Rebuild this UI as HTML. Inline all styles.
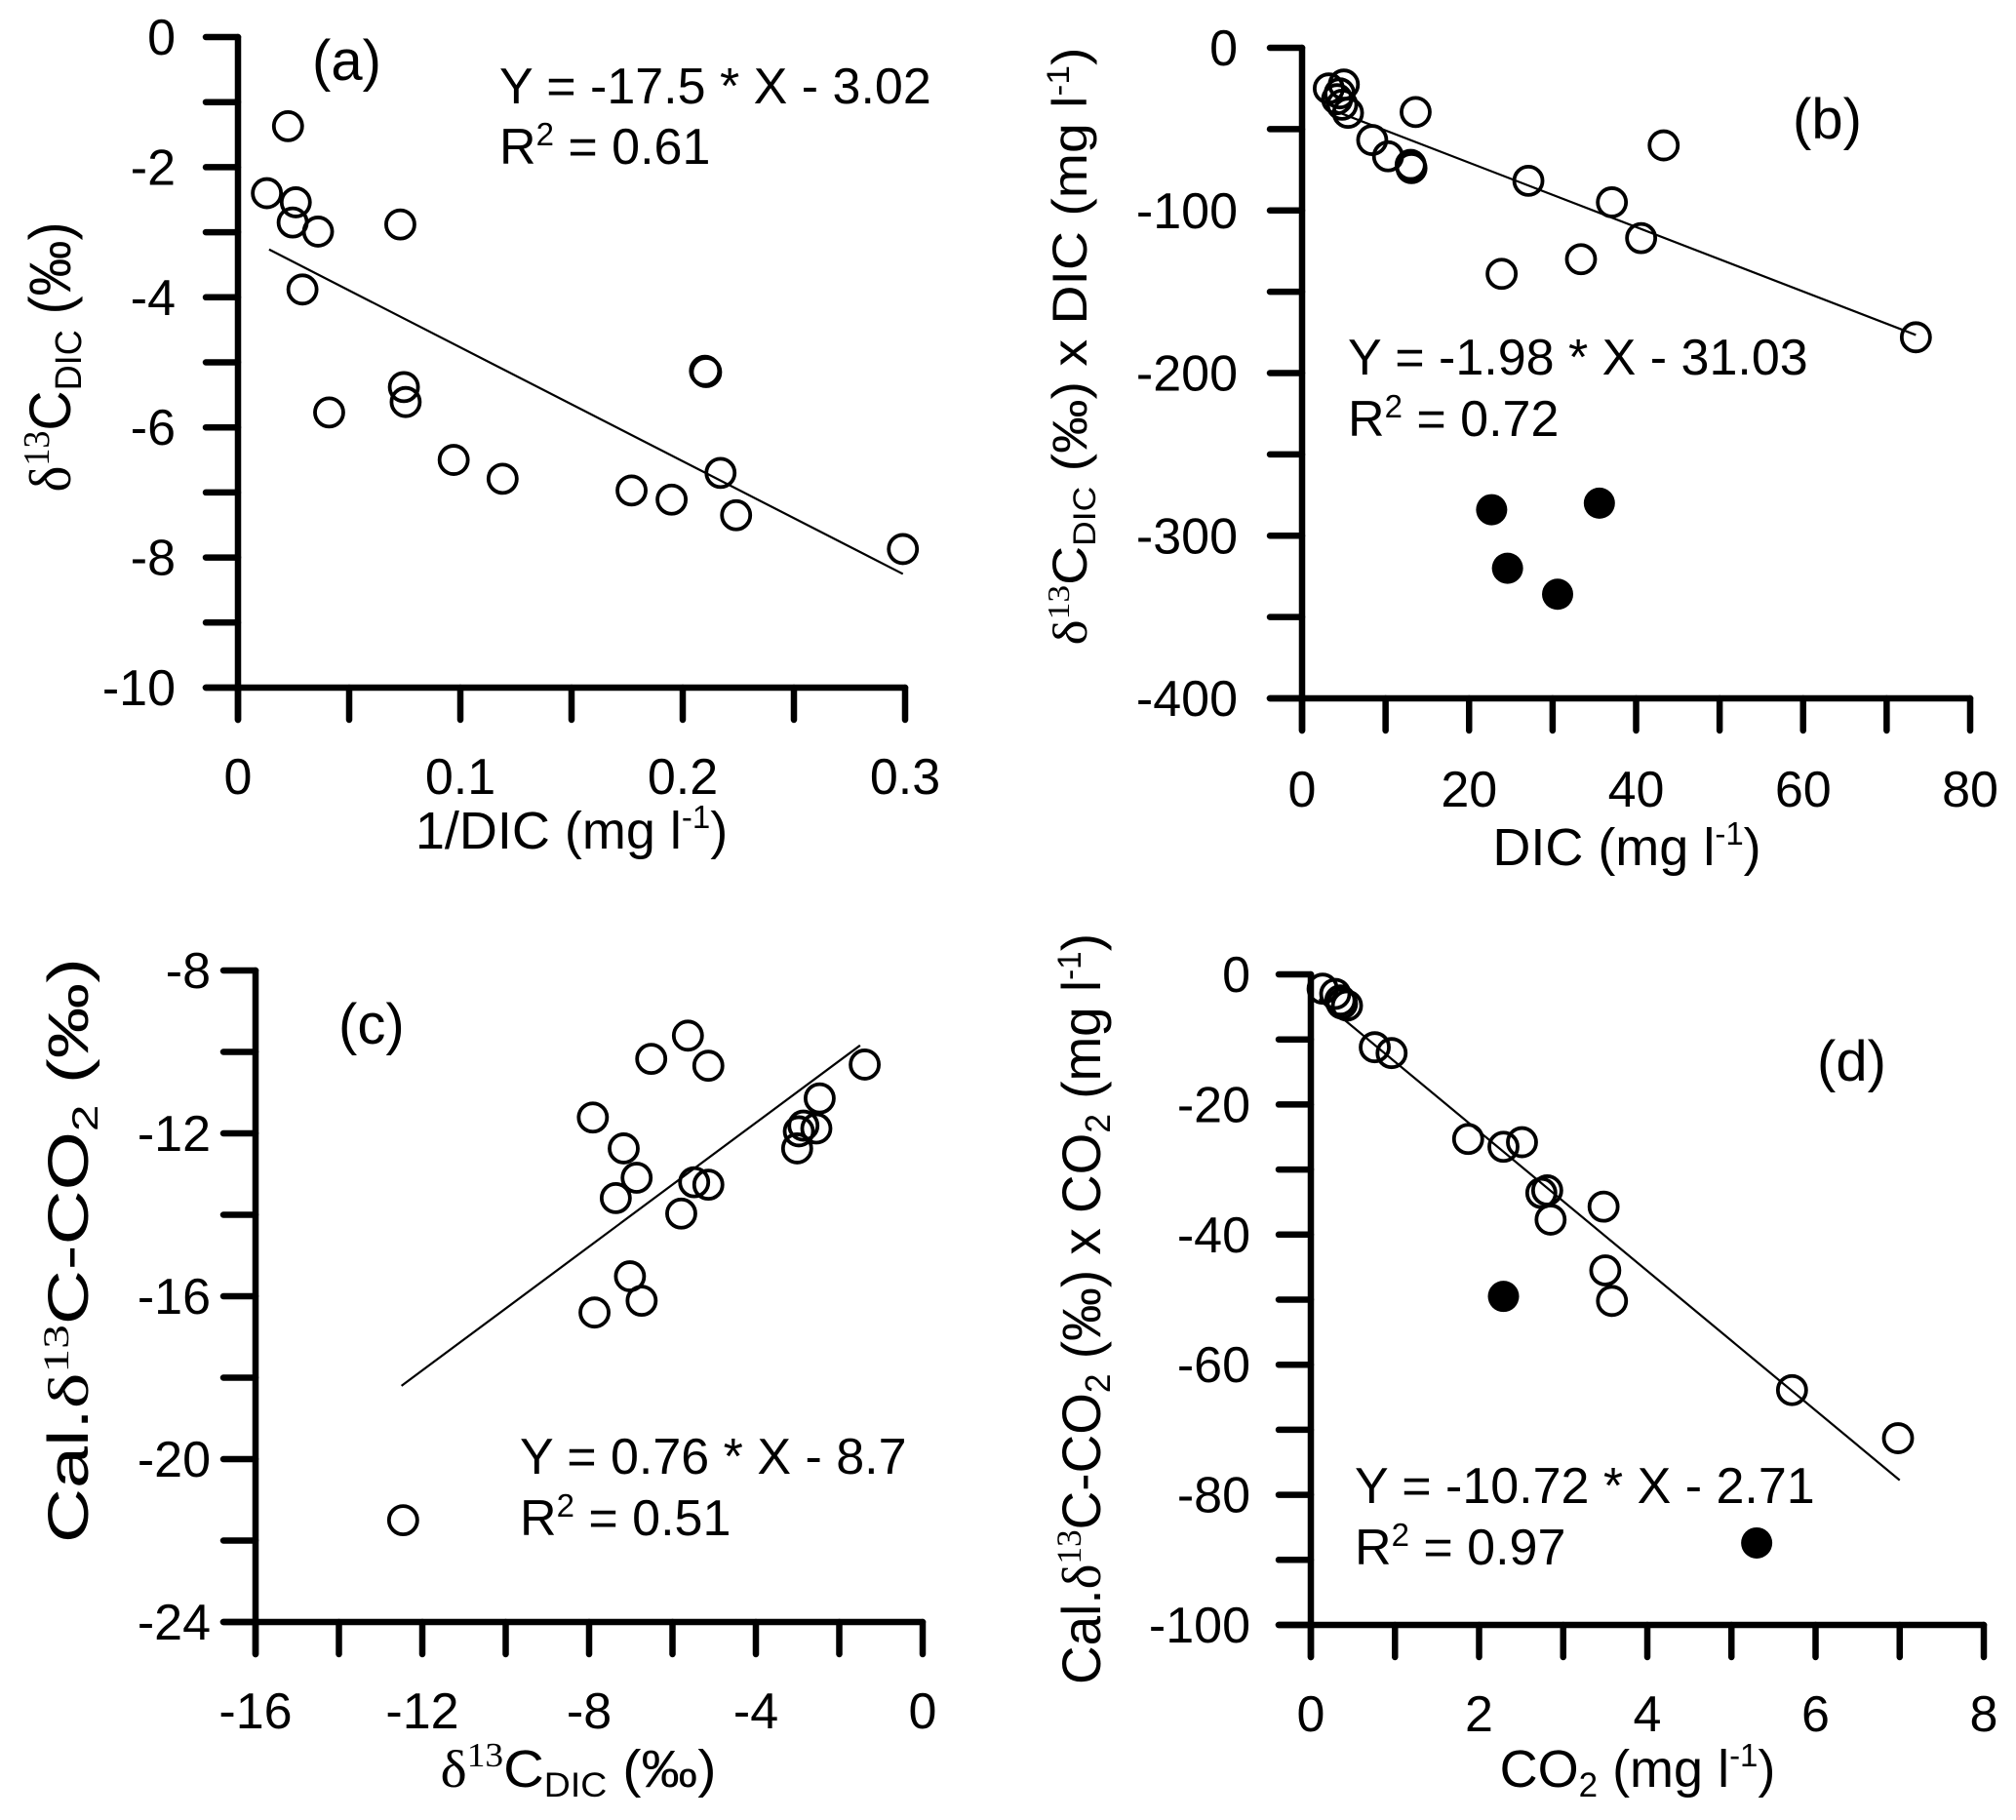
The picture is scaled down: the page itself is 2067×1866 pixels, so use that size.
<!DOCTYPE html>
<html><head><meta charset="utf-8"><style>
html,body{margin:0;padding:0;background:#fff;}
svg{display:block;font-family:"Liberation Sans",Arial,sans-serif;}
.ser{font-family:"Liberation Serif","Times New Roman",serif;}
</style></head><body>
<svg id="fig" width="2067" height="1866" viewBox="0 0 2067 1866" xmlns="http://www.w3.org/2000/svg">
<g id="pa"></g>
<g id="pb"></g>
<g id="pc"></g>
<g id="pd"></g>

<text x="320" y="82" font-size="58">(a)</text>
<text x="512" y="106" font-size="52">Y = -17.5 * X - 3.02</text>
<text x="512" y="168" font-size="52">R<tspan font-size="33" dy="-19">2</tspan><tspan dy="19"> = 0.61</tspan></text>
<text x="586" y="870" font-size="54" text-anchor="middle">1/DIC (mg l<tspan font-size="33" dy="-21">-1</tspan><tspan dy="21">)</tspan></text>
<text transform="translate(72,366) rotate(-90)" font-size="60" text-anchor="middle" textLength="277" lengthAdjust="spacingAndGlyphs"><tspan class="ser">δ</tspan><tspan class="ser" font-size="38" dy="-22">13</tspan><tspan dy="22">C</tspan><tspan font-size="38" dy="11">DIC</tspan><tspan dy="-11"> (‰)</tspan></text>

<text x="1838" y="142" font-size="58">(b)</text>
<text x="1382" y="384" font-size="52">Y = -1.98 * X - 31.03</text>
<text x="1382" y="447" font-size="52">R<tspan font-size="33" dy="-19">2</tspan><tspan dy="19"> = 0.72</tspan></text>
<text x="1668" y="887" font-size="54" text-anchor="middle">DIC (mg l<tspan font-size="33" dy="-21">-1</tspan><tspan dy="21">)</tspan></text>
<text transform="translate(1114,355) rotate(-90)" font-size="50" text-anchor="middle" textLength="613" lengthAdjust="spacingAndGlyphs"><tspan class="ser">δ</tspan><tspan class="ser" font-size="32" dy="-18">13</tspan><tspan dy="18">C</tspan><tspan font-size="32" dy="9">DIC</tspan><tspan dy="-9"> (‰) x DIC (mg l</tspan><tspan font-size="32" dy="-18">-1</tspan><tspan dy="18">)</tspan></text>

<text x="347" y="1070" font-size="58">(c)</text>
<text x="533" y="1511" font-size="52">Y = 0.76 * X - 8.7</text>
<text x="533" y="1574" font-size="52">R<tspan font-size="33" dy="-19">2</tspan><tspan dy="19"> = 0.51</tspan></text>
<text x="593" y="1832" font-size="54" text-anchor="middle" textLength="283" lengthAdjust="spacingAndGlyphs"><tspan class="ser">δ</tspan><tspan class="ser" font-size="35" dy="-21">13</tspan><tspan dy="21">C</tspan><tspan font-size="35" dy="10">DIC</tspan><tspan dy="-10"> (‰)</tspan></text>
<text transform="translate(90,1282) rotate(-90)" font-size="58" text-anchor="middle" textLength="600" lengthAdjust="spacingAndGlyphs">Cal.<tspan class="ser">δ</tspan><tspan class="ser" font-size="37" dy="-20">13</tspan><tspan dy="20">C-CO</tspan><tspan font-size="37" dy="10">2</tspan><tspan dy="-10"> (‰)</tspan></text>

<text x="1863" y="1108" font-size="58">(d)</text>
<text x="1389" y="1541" font-size="52">Y = -10.72 * X - 2.71</text>
<text x="1389" y="1604" font-size="52">R<tspan font-size="33" dy="-19">2</tspan><tspan dy="19"> = 0.97</tspan></text>
<text x="1679" y="1832" font-size="54" text-anchor="middle">CO<tspan font-size="35" dy="10">2</tspan><tspan dy="-10"> (mg l</tspan><tspan font-size="33" dy="-21">-1</tspan><tspan dy="21">)</tspan></text>
<text transform="translate(1128,1342) rotate(-90)" font-size="56" text-anchor="middle" textLength="770" lengthAdjust="spacingAndGlyphs">Cal.<tspan class="ser">δ</tspan><tspan class="ser" font-size="36" dy="-20">13</tspan><tspan dy="20">C-CO</tspan><tspan font-size="36" dy="10">2</tspan><tspan dy="-10"> (‰) x CO</tspan><tspan font-size="36" dy="10">2</tspan><tspan dy="-10"> (mg l</tspan><tspan font-size="34" dy="-20">-1</tspan><tspan dy="20">)</tspan></text>
</svg>
<script>
// ---- Panel (a) data ----
const aX = [0.0225,0.013,0.026,0.0246,0.036,0.029,0.073,0.0746,0.0754,0.041,0.097,0.119,0.177,0.195,0.210,0.2105,0.217,0.224,0.299];
const aY = [-1.37,-2.40,-2.54,-2.85,-2.99,-3.88,-2.88,-5.38,-5.61,-5.77,-6.50,-6.79,-6.97,-7.11,-5.13,-5.15,-6.70,-7.35,-7.87];
const aFit = [-17.5, -3.02]; const aFitRange = [0.014, 0.299];
const aYTicks = [0,-2,-4,-6,-8,-10]; const aXTicks = [0,0.1,0.2,0.3];
const aXTickLabels = ["0","0.1","0.2","0.3"];
// ---- Panel (b) data ----
const bX = [3.2,5.0,4.2,4.8,5.5,4.5,8.4,10.3,13.1,13.0,13.6,27.1,23.9,37.1,33.4,40.6,43.3,73.5];
const bY = [-25,-22.6,-31.6,-35,-40,-28,-56.7,-66.7,-74,-72,-39.5,-81.8,-139,-95,-130,-117,-60,-178];
const bFX = [22.7,24.6,35.6,30.6];
const bFY = [-284,-320,-280,-336];
const bFit = [-1.98, -31.03]; const bFitRange = [4, 73.5];
const bYTicks = [0,-100,-200,-300,-400]; const bXTicks = [0,20,40,60,80];
// ---- Panel (c) data ----
const cX = [-5.63,-6.51,-5.14,-1.39,-2.47,-7.91,-2.86,-2.55,-2.97,-3.01,-7.17,-6.86,-5.48,-5.14,-7.36,-5.79,-7.02,-6.74,-7.87,-12.46];
const cY = [-9.60,-10.17,-10.34,-10.31,-11.14,-11.61,-11.81,-11.88,-11.95,-12.37,-12.37,-13.09,-13.20,-13.26,-13.59,-13.97,-15.51,-16.11,-16.40,-21.50];
const cFit = [0.76, -8.7]; const cFitRange = [-12.5, -1.5];
const cYTicks = [-8,-12,-16,-20,-24]; const cXTicks = [-16,-12,-8,-4,0];
// ---- Panel (d) data ----
const dX = [0.14,0.29,0.35,0.43,0.37,0.76,0.96,1.87,2.29,2.51,2.74,2.81,2.85,3.48,3.50,3.58,5.72,6.98];
const dY = [-2.2,-3.0,-4.0,-4.8,-4.5,-11.2,-12.1,-25.3,-26.5,-25.8,-33.6,-33.2,-37.7,-35.7,-45.5,-50.2,-63.9,-71.3];
const dFX = [2.29,5.30];
const dFY = [-49.5,-87.4];
const dFit = [-10.72, -2.71]; const dFitRange = [0.1, 7.0];
const dYTicks = [0,-20,-40,-60,-80,-100]; const dXTicks = [0,2,4,6,8];

const NS="http://www.w3.org/2000/svg";
function mk(tag, parent, attrs){const e=document.createElementNS(NS,tag);for(const k in attrs)e.setAttribute(k,attrs[k]);parent.appendChild(e);return e;}

function panel(gid, px0, px1, py0, py1, xmin, xmax, ymin, ymax, xMinorStep, yMinorStep, xTicks, xLabels, yTicks, labRightX, xLabBase, ox, oy, fx, fy, fit, fitRange, pre){
  const g=document.getElementById(gid);
  const sx=v=>px0+(v-xmin)/(xmax-xmin)*(px1-px0);
  const sy=v=>py1-(v-ymin)/(ymax-ymin)*(py1-py0);
  const tl=33;
  const ax=mk('path',g,{d:`M${px0} ${py0} L${px0} ${py1+tl} M${px0-tl} ${py1} L${px1} ${py1}`,stroke:'#000','stroke-width':6.5,fill:'none','stroke-linecap':'round'});
  
  
  let ticks='';
  const nx=Math.round((xmax-xmin)/xMinorStep);
  for(let i=0;i<=nx;i++){const x=sx(xmin+i*xMinorStep);ticks+=`M${x} ${py1} L${x} ${py1+tl} `;}
  const ny=Math.round((ymax-ymin)/yMinorStep);
  for(let i=0;i<=ny;i++){const y=sy(ymin+i*yMinorStep);ticks+=`M${px0-tl} ${y} L${px0} ${y} `;}
  const tk=mk('path',g,{d:ticks,stroke:'#000','stroke-width':6.5,fill:'none','stroke-linecap':'round'});
  
  
  xTicks.forEach((v,i)=>{const t=mk('text',g,{x:sx(v),y:xLabBase,'font-size':52,'text-anchor':'middle'});t.textContent=xLabels?xLabels[i]:String(v);
    
    });
  yTicks.forEach(v=>{const t=mk('text',g,{x:labRightX,y:sy(v)+18,'font-size':52,'text-anchor':'end'});t.textContent=String(v);
    
    });
  const ln=mk('line',g,{x1:sx(fitRange[0]),y1:sy(fit[0]*fitRange[0]+fit[1]),x2:sx(fitRange[1]),y2:sy(fit[0]*fitRange[1]+fit[1]),stroke:'#000','stroke-width':2.2});
  
  
  ox.forEach((v,i)=>{const c=mk('circle',g,{cx:sx(v),cy:sy(oy[i]),r:14.5,fill:'none',stroke:'#000','stroke-width':3.8});
    
    });
  if(fx) fx.forEach((v,i)=>{const c=mk('circle',g,{cx:sx(v),cy:sy(fy[i]),r:16,fill:'#000'});
    
    });
}
panel('pa',244,928,38,705,0,0.3,-10,0,0.05,1,aXTicks,aXTickLabels,aYTicks,180,814,aX,aY,null,null,aFit,aFitRange,'panel-a');
panel('pb',1335,2020,49,716,0,80,-400,0,10,50,bXTicks,null,bYTicks,1269,827,bX,bY,bFX,bFY,bFit,bFitRange,'panel-b');
panel('pc',262,946,995,1663,-16,0,-24,-8,2,2,cXTicks,null,cYTicks,216,1772,cX,cY,null,null,cFit,cFitRange,'panel-c');
panel('pd',1344,2034,999,1666,0,8,-100,0,1,10,dXTicks,null,dYTicks,1282,1775,dX,dY,dFX,dFY,dFit,dFitRange,'panel-d');
</script>
</body></html>
